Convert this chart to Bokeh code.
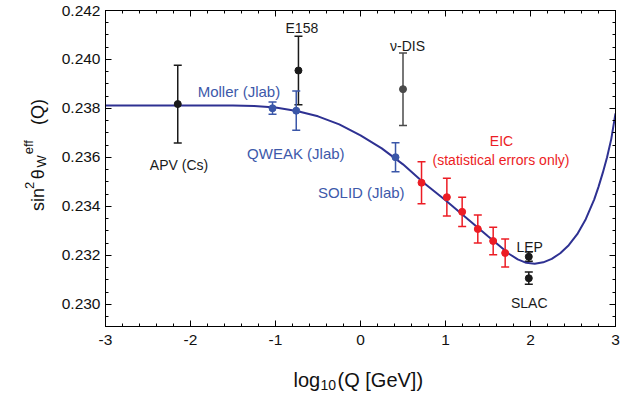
import math
from bokeh.plotting import figure
from bokeh.layouts import row, column
from bokeh.models import (ColumnDataSource, Whisker, TeeHead, Label, LinearAxis,
                          FixedTicker, Range1d, CustomJSTickFormatter, NumeralTickFormatter)
from bokeh.core.properties import value
from bokeh.embed import file_html
from bokeh.resources import INLINE

# ---------------- data ----------------
curve_x = [-3.0, -2.0, -1.5, -1.25, -1.0, -0.75, -0.5, -0.25, 0.0, 0.25, 0.5, 0.75,
           1.0, 1.25, 1.5, 1.75, 1.85, 1.95, 2.05, 2.15, 2.25, 2.35, 2.45, 2.55,
           2.65, 2.75, 2.8, 2.85, 2.9, 2.95, 3.0]
curve_y = [0.23812, 0.23812, 0.23812, 0.23810, 0.23804, 0.23790, 0.23768, 0.23735,
           0.23690, 0.23637, 0.23572, 0.23495, 0.23425, 0.23352, 0.23278, 0.23206,
           0.23184, 0.23170, 0.23166, 0.23172, 0.23186, 0.23209, 0.23242, 0.23287,
           0.23348, 0.23429, 0.23480, 0.23537, 0.23600, 0.23675, 0.23780]

black_x = [-2.15, -0.73, 1.98, 1.98]
black_y = [0.23818, 0.23955, 0.23195, 0.23107]
black_err = [0.00159, 0.00140, 0.00019, 0.00025]

nudis_x = [0.50]
nudis_y = [0.23879]
nudis_err = [0.00148]

jlab_x = [-1.035, -0.756, 0.412]
jlab_y = [0.23801, 0.23791, 0.23601]
jlab_err = [0.00025, 0.00080, 0.00059]

eic_x = [0.718, 1.016, 1.196, 1.38, 1.561, 1.702]
eic_y = [0.23497, 0.23438, 0.23378, 0.23308, 0.23259, 0.23210]
eic_err = [0.00086, 0.00077, 0.00060, 0.00057, 0.00056, 0.00057]

annot_text = ["E158", "\u03bd-DIS", "APV (Cs)", "LEP", "SLAC",
              "Moller (Jlab)", "QWEAK (Jlab)", "SOLID (Jlab)",
              "EIC", "(statistical errors only)"]
annot_x = [-0.69, 0.553, -2.135, 1.99, 1.985, -1.43, -0.761, 0.009, 1.659, 1.653]
annot_y = [0.24130, 0.24056, 0.23571, 0.23236, 0.23007,
           0.23871, 0.23618, 0.23458, 0.23669, 0.23591]
annot_group = ["k", "k", "k", "k", "k", "b", "b", "b", "r", "r"]

x_ticks = [-3, -2, -1, 0, 1, 2, 3]
x_tick_labels = ["-3", "-2", "-1", "0", "1", "2", "3"]
y_ticks = [0.230, 0.232, 0.234, 0.236, 0.238, 0.240, 0.242]

x_title = ["log", "10", "(Q [GeV])"]
y_title = ["sin", "2", "\u03b8", "W", "eff", "(Q)"]

X0, X1 = -3.0, 3.0
Y0, Y1 = 0.2291, 0.242

# ---------------- style ----------------
FONT = "Liberation Sans"
CURVE = "#2e3192"
BLUE = "#3a56a8"
BLUE_TXT = "#3d59aa"
RED = "#ec1c24"
BLACK = "#1a1a1a"
GRAY = "#4a4a4a"
colors = {"k": BLACK, "b": BLUE_TXT, "r": RED}

YW = 54          # width of the strip holding the y title
PW, PH = 567, 356
XH = 36          # height of the strip holding the x title
TOTAL_W = YW + PW
TOTAL_H = PH + XH

p = figure(width=PW, height=PH, x_range=Range1d(X0, X1), y_range=Range1d(Y0, Y1),
           output_backend="svg", toolbar_location=None,
           min_border_left=105 - YW, min_border_right=6, min_border_top=10,
           min_border_bottom=30)
p.background_fill_color = "white"
p.border_fill_color = "white"
p.xgrid.grid_line_color = None
p.ygrid.grid_line_color = None
p.outline_line_color = "black"
p.outline_line_width = 1

x_minor = [X0 + 0.2 * i for i in range(31)]
y_minor = [0.2290 + 0.0005 * i for i in range(27)]


def style_axis(ax, labels=True):
    ax.axis_line_color = "black"
    ax.axis_line_width = 1
    ax.major_tick_in = 6
    ax.major_tick_out = 0
    ax.minor_tick_in = 3
    ax.minor_tick_out = 0
    ax.major_tick_line_color = "black"
    ax.minor_tick_line_color = "black"
    if labels:
        ax.major_label_text_font = FONT
        ax.major_label_text_font_size = "15.5px"
        ax.major_label_text_color = "#111111"
    else:
        ax.major_label_text_font_size = "0px"
        ax.major_label_standoff = 0
        ax.formatter = CustomJSTickFormatter(code="return ''")


p.xaxis.ticker = FixedTicker(ticks=x_ticks, minor_ticks=x_minor)
p.xaxis.major_label_overrides = dict(zip(x_ticks, x_tick_labels))
style_axis(p.xaxis[0])
p.xaxis.major_label_standoff = 8

p.yaxis.ticker = FixedTicker(ticks=y_ticks, minor_ticks=y_minor)
p.yaxis.formatter = NumeralTickFormatter(format="0.000")
style_axis(p.yaxis[0])
p.yaxis.major_label_standoff = 5

top = LinearAxis(ticker=FixedTicker(ticks=x_ticks, minor_ticks=x_minor))
style_axis(top, labels=False)
p.add_layout(top, "above")
right = LinearAxis(ticker=FixedTicker(ticks=y_ticks, minor_ticks=y_minor))
style_axis(right, labels=False)
p.add_layout(right, "right")

# curve
p.line(curve_x, curve_y, line_color=CURVE, line_width=2)


def add_points(xs, ys, errs, color, size=7):
    src = ColumnDataSource(dict(x=xs, y=ys,
                                lo=[y - e for y, e in zip(ys, errs)],
                                hi=[y + e for y, e in zip(ys, errs)]))
    w = Whisker(source=src, base="x", lower="lo", upper="hi", dimension="height",
                line_color=color, line_width=1.5,
                upper_head=TeeHead(size=8, line_color=color, line_width=1.5),
                lower_head=TeeHead(size=8, line_color=color, line_width=1.5))
    p.add_layout(w)
    p.scatter("x", "y", source=src, size=size, color=color)


add_points(black_x, black_y, black_err, BLACK)
add_points(nudis_x, nudis_y, nudis_err, GRAY)
add_points(jlab_x, jlab_y, jlab_err, BLUE)
add_points(eic_x, eic_y, eic_err, RED)

for t, x, y, g in zip(annot_text, annot_x, annot_y, annot_group):
    fs = "15px" if g == "b" else "14px"
    p.add_layout(Label(x=x, y=y, text=t, text_font=FONT, text_font_size=fs,
                       text_color=colors[g], text_align="center",
                       text_baseline="alphabetic"))


def strip(w, h):
    f = figure(width=w, height=h, x_range=Range1d(0, w), y_range=Range1d(0, h),
               output_backend="svg", toolbar_location=None,
               x_axis_type=None, y_axis_type=None, min_border=0,
               min_border_left=0, min_border_right=0, min_border_top=0, min_border_bottom=0)
    f.xgrid.grid_line_color = None
    f.ygrid.grid_line_color = None
    f.outline_line_color = None
    f.background_fill_color = "white"
    f.border_fill_color = "white"
    return f


# y title strip (pixel coordinates; y measured up from the strip's bottom)
ys = strip(YW, PH)
y_pos = [(37, 226, "18px"), (29, 201, "13px"), (37, 190, "18px"),
         (41, 177, "13px"), (28, 162, "13px"), (37, 129, "18px")]
for t, (px, py, fs) in zip(y_title, y_pos):
    ys.text(x=[px], y=[PH - py], text=[t], angle=math.pi / 2,
            text_font=value(FONT), text_font_size=value(fs), text_color="#111111",
            text_align="left", text_baseline="alphabetic")

# x title strip
xs = strip(TOTAL_W, XH)
x_pos = [(293, 379, "20px"), (320, 384, "14px"), (337, 379, "20px")]
for t, (px, py, fs) in zip(x_title, x_pos):
    xs.text(x=[px], y=[TOTAL_H - py], text=[t],
            text_font=value(FONT), text_font_size=value(fs), text_color="#111111",
            text_align="left", text_baseline="alphabetic")

layout = column(row(ys, p), xs)
open("out.html", "w").write(file_html(layout, INLINE))
